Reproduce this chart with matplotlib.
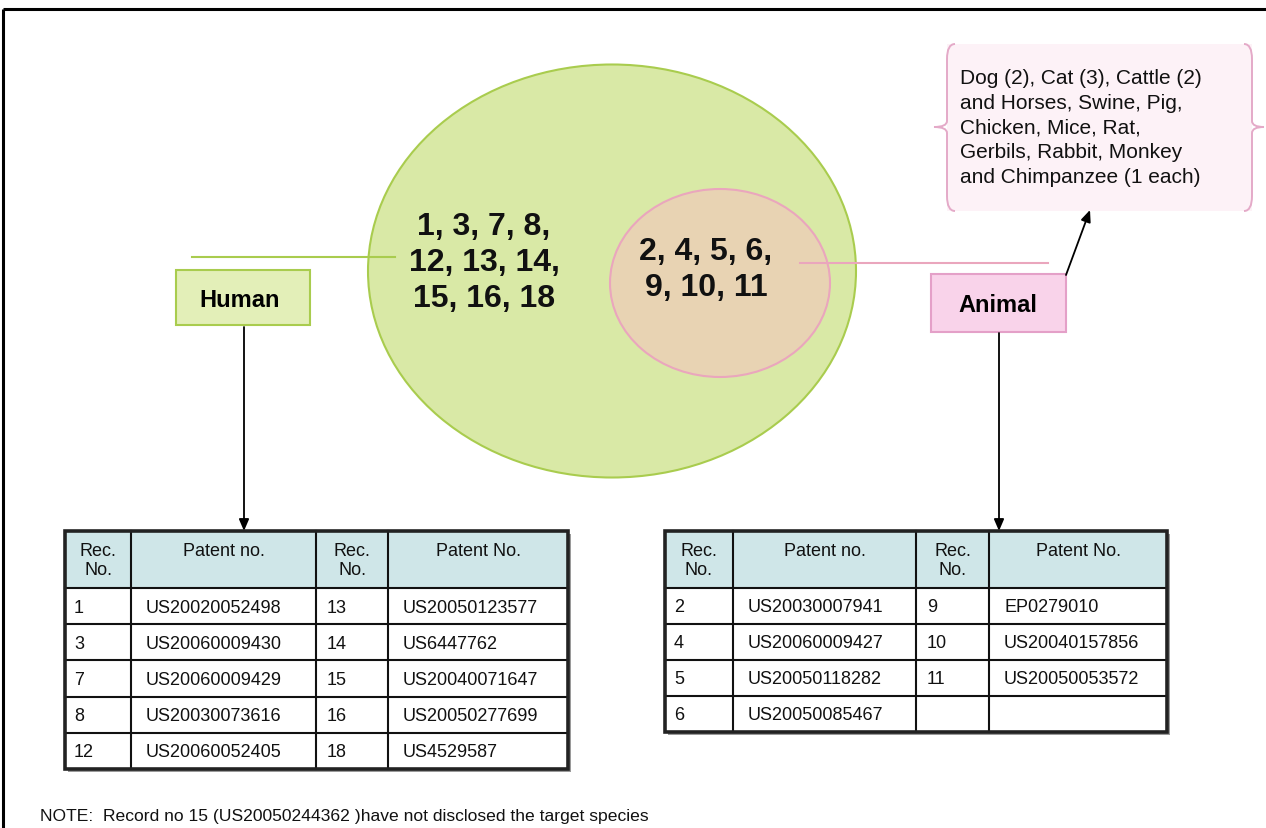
import matplotlib
matplotlib.use("Agg")
import matplotlib.pyplot as plt
from matplotlib.patches import Ellipse, Rectangle, PathPatch
from matplotlib.path import Path

plt.rcParams['font.family'] = ['Liberation Sans', 'DejaVu Sans']

# ---------------- data ----------------
human_label = "Human"
animal_label = "Animal"
human_only_recs = "1, 3, 7, 8,\n12, 13, 14,\n15, 16, 18"
animal_recs = "2, 4, 5, 6,\n9, 10, 11"
species_note = ("Dog (2), Cat (3), Cattle (2)\nand Horses, Swine, Pig,\n"
                "Chicken, Mice, Rat,\nGerbils, Rabbit, Monkey\nand Chimpanzee (1 each)")
header = ["Rec.\nNo.", "Patent no.", "Rec.\nNo.", "Patent No."]

human_rec_left = ["1", "3", "7", "8", "12"]
human_pat_left = ["US20020052498", "US20060009430", "US20060009429", "US20030073616", "US20060052405"]
human_rec_right = ["13", "14", "15", "16", "18"]
human_pat_right = ["US20050123577", "US6447762", "US20040071647", "US20050277699", "US4529587"]

animal_rec_left = ["2", "4", "5", "6"]
animal_pat_left = ["US20030007941", "US20060009427", "US20050118282", "US20050085467"]
animal_rec_right = ["9", "10", "11", ""]
animal_pat_right = ["EP0279010", "US20040157856", "US20050053572", ""]

note_text = "NOTE:  Record no 15 (US20050244362 )have not disclosed the target species"

# ---------------- figure ----------------
W, H = 1266, 829
fig = plt.figure(figsize=(W / 100, H / 100), dpi=100)
ax = fig.add_axes([0, 0, 1, 1])
ax.set_xlim(0, W)
ax.set_ylim(H, 0)
ax.axis('off')

# frame (top + left)
ax.plot([3, W], [10, 10], color='black', lw=2.2, solid_capstyle='butt')
ax.plot([3, 3], [10, H], color='black', lw=2.2, solid_capstyle='butt')

# ellipses
ax.add_patch(Ellipse((612, 272), 488, 413, facecolor='#d9e9a6', edgecolor='#a9cc4e', lw=1.5, zorder=1))
ax.add_patch(Ellipse((720, 284), 220, 188, facecolor='#e8d3b3', edgecolor='#eaa6bd', lw=1.5, zorder=2))
ax.text(484, 263, human_only_recs, ha='center', va='center', fontsize=23, fontweight='bold',
        linespacing=1.26, zorder=3, color='#111111')
ax.text(706, 270, animal_recs, ha='center', va='center', fontsize=23, fontweight='bold',
        linespacing=1.26, zorder=3, color='#111111')

# connector lines
ax.plot([192, 395], [258, 258], color='#a9cc4e', lw=1.5, zorder=2)
ax.plot([800, 1048], [264, 264], color='#eaa6bd', lw=1.5, zorder=3)

# label boxes
ax.add_patch(Rectangle((176, 271), 134, 55, facecolor='#e3efb8', edgecolor='#a9cc4e', lw=1.5, zorder=3))
ax.text(240, 300, human_label, ha='center', va='center', fontsize=17, fontweight='bold', zorder=4)
ax.add_patch(Rectangle((931, 275), 135, 58, facecolor='#f9d3ea', edgecolor='#e4a0c8', lw=1.5, zorder=3))
ax.text(998, 305, animal_label, ha='center', va='center', fontsize=17, fontweight='bold', zorder=4)

# arrows
arrow_kw = dict(arrowstyle='-|>,head_length=0.7,head_width=0.3', color='black', lw=1.3, shrinkA=0, shrinkB=0)
ax.annotate('', xy=(244, 532), xytext=(244, 328), arrowprops=arrow_kw)
ax.annotate('', xy=(999, 532), xytext=(999, 334), arrowprops=arrow_kw)
ax.annotate('', xy=(1090, 211), xytext=(1066, 276), arrowprops=arrow_kw)

# callout box
ax.add_patch(Rectangle((947, 45), 305, 167, facecolor='#fdf2f7', edgecolor='none', zorder=1))
brace_col = '#e4aac8'
def brace(xo, xi, xp):
    verts = [(xi, 45), (xo, 45), (xo, 60), (xo, 122), (xo, 128), (xp, 128),
             (xo, 128), (xo, 134), (xo, 197), (xo, 212), (xi, 212)]
    codes = [Path.MOVETO, Path.CURVE3, Path.CURVE3, Path.LINETO, Path.CURVE3, Path.CURVE3,
             Path.CURVE3, Path.CURVE3, Path.LINETO, Path.CURVE3, Path.CURVE3]
    ax.add_patch(PathPatch(Path(verts, codes), facecolor='none', edgecolor=brace_col, lw=1.4, zorder=2))
brace(947, 955, 934)
brace(1252, 1244, 1264)
ax.text(960, 128, species_note, ha='left', va='center', fontsize=15, linespacing=1.38,
        color='#111111', zorder=3)

# tables
def draw_table(x_edges, y_top, head_h, row_h, cols):
    nrows = len(cols[0])
    y_bot = y_top + head_h + nrows * row_h
    x0, x1 = x_edges[0], x_edges[-1]
    ax.add_patch(Rectangle((x0 + 3, y_top + 3), x1 - x0, y_bot - y_top, facecolor='#9a9a9a',
                           edgecolor='none', zorder=1))
    ax.add_patch(Rectangle((x0, y_top), x1 - x0, y_bot - y_top, facecolor='white',
                           edgecolor='none', zorder=2))
    ax.add_patch(Rectangle((x0, y_top), x1 - x0, head_h, facecolor='#cfe6e8',
                           edgecolor='none', zorder=2))
    for xe in x_edges[1:-1]:
        ax.plot([xe, xe], [y_top, y_bot], color='#111111', lw=1.5, zorder=3)
    for r in range(nrows):
        yy = y_top + head_h + r * row_h
        ax.plot([x0, x1], [yy, yy], color='#111111', lw=1.5, zorder=3)
    ax.add_patch(Rectangle((x0, y_top), x1 - x0, y_bot - y_top, facecolor='none',
                           edgecolor='#222222', lw=2.6, zorder=4))
    for c in range(4):
        xc = (x_edges[c] + x_edges[c + 1]) / 2
        ax.text(xc, y_top + 11, header[c], ha='center', va='top', fontsize=13,
                linespacing=1.15, color='#111111', zorder=5)
    pads = [9, 15, 11, 15]
    for c in range(4):
        for r, val in enumerate(cols[c]):
            yy = y_top + head_h + (r + 0.5) * row_h
            ax.text(x_edges[c] + pads[c], yy + 1, val, ha='left', va='center', fontsize=13,
                    color='#111111', zorder=5)

draw_table([65, 131, 316, 388, 568], 532, 57, 36.2,
           [human_rec_left, human_pat_left, human_rec_right, human_pat_right])
draw_table([665, 733, 916, 989, 1167], 532, 57, 36,
           [animal_rec_left, animal_pat_left, animal_rec_right, animal_pat_right])

ax.text(40, 817, note_text, ha='left', va='center', fontsize=12.6, color='#111111')

fig.savefig('out.png', dpi=100)
